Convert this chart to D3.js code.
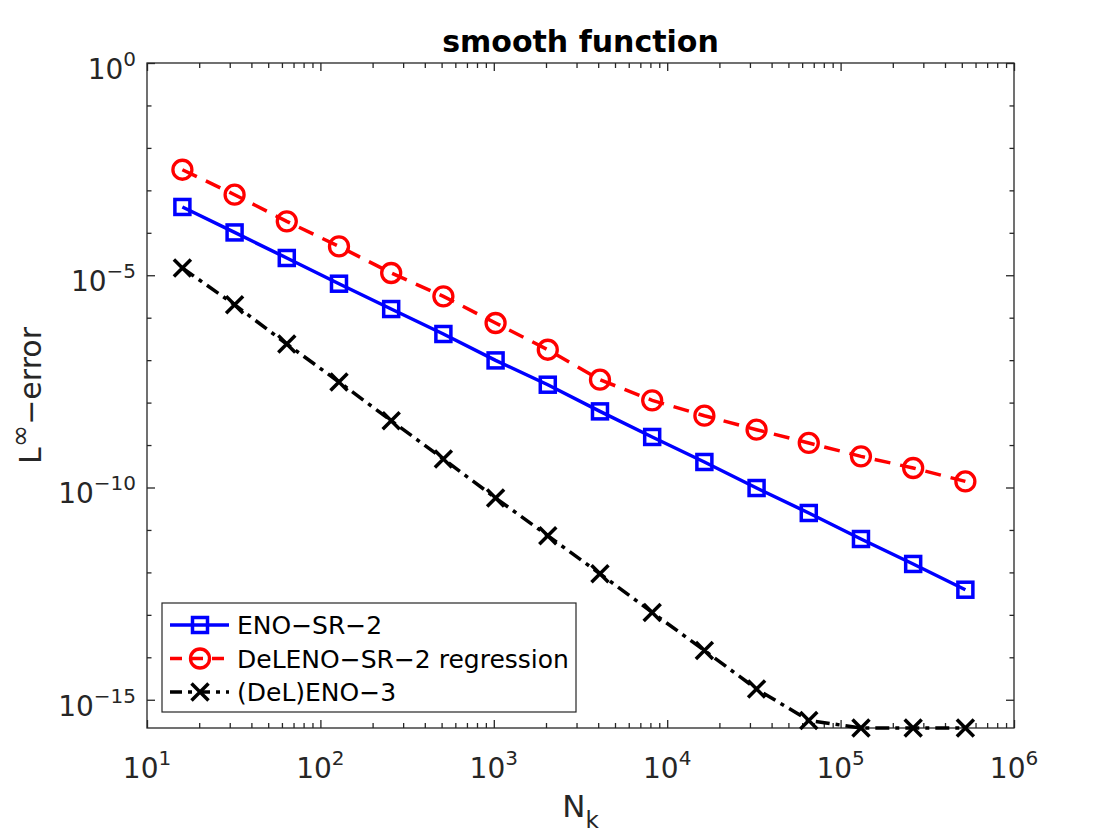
<!DOCTYPE html>
<html>
<head>
<meta charset="utf-8">
<script src="https://cdn.jsdelivr.net/npm/d3@7"></script>
<style>
  body { margin: 0; background: #fff; }
  svg { display: block; font-family: "DejaVu Sans", sans-serif; }
</style>
</head>
<body>
<div id="chart"></div>
<script>
// data
const cells = [16, 32, 64, 128, 256, 512, 1024, 2048, 4096, 8192, 16384, 32768, 65536, 131072, 262144, 524288];
const enoSR2 = [4.06e-4, 1.02e-4, 2.55e-5, 6.32e-6, 1.60e-6, 4.13e-7, 9.86e-8, 2.64e-8, 6.21e-9, 1.55e-9, 3.99e-10, 9.72e-11, 2.51e-11, 6.12e-12, 1.58e-12, 3.91e-13];
const delenoSR2 = [3.06e-3, 7.90e-4, 1.86e-4, 4.78e-5, 1.13e-5, 3.18e-6, 7.50e-7, 1.76e-7, 3.46e-8, 1.13e-8, 4.91e-9, 2.30e-9, 1.12e-9, 5.41e-10, 2.88e-10, 1.39e-10];
const eno3 = [1.48e-5, 2.02e-6, 2.40e-7, 3.06e-8, 3.75e-9, 4.69e-10, 5.66e-11, 7.33e-12, 9.31e-13, 1.14e-13, 1.45e-14, 1.79e-15, 3.26e-16, 2.16e-16, 2.16e-16, 2.16e-16];
const seriesNames = ["ENO\u2212SR\u22122", "DeLENO\u2212SR\u22122 regression", "(DeL)ENO\u22123"];
const xTickExps = [1, 2, 3, 4, 5, 6];
const yTickExps = [0, -5, -10, -15];

const width = 1120;
const height = 840;
const marginLeft = 147;
const marginRight = 106;
const marginTop = 63;
const marginBottom = 112;
const chartWidth = width - marginLeft - marginRight;
const chartHeight = height - marginTop - marginBottom;
const axisColor = "#262626";

const series = [
  { name: seriesNames[0], values: enoSR2, color: "#0000ff", dash: null, legendDash: null, marker: "square" },
  { name: seriesNames[1], values: delenoSR2, color: "#ff0000", dash: "16,10", legendDash: "12,9", marker: "circle" },
  { name: seriesNames[2], values: eno3, color: "#000000", dash: "14,6,4,6", legendDash: "12,6,4,6", marker: "cross" }
];

// scales
const xScale = d3.scaleLog().domain([10, 1e6]).range([0, chartWidth]);
const yMin = d3.min(series.flatMap((s) => s.values));
const yScale = d3.scaleLog().domain([yMin, 1]).range([chartHeight, 0]);

const xMajor = xTickExps.map((e) => Math.pow(10, e));
const xMinor = xScale.ticks().filter((t) => !xMajor.some((m) => Math.abs(m - t) / m < 1e-9));
const yMajor = yTickExps.map((e) => Math.pow(10, e));
const yMinor = d3.range(-1, -16, -1).filter((e) => !yTickExps.includes(e)).map((e) => Math.pow(10, e));

const svg = d3.select("#chart").append("svg")
  .attr("width", width)
  .attr("height", height);

const g = svg.append("g")
  .attr("transform", `translate(${marginLeft}, ${marginTop})`);

// ticks (inward, on all four sides)
function tickAxis(axis, values, size, transform) {
  const a = g.append("g")
    .attr("transform", transform)
    .call(axis.tickValues(values).tickSize(-size).tickFormat(""));
  a.select(".domain").remove();
  a.selectAll("line").attr("stroke", axisColor).attr("stroke-width", 1.3);
}
tickAxis(d3.axisBottom(xScale), xMajor, 8, `translate(0, ${chartHeight})`);
tickAxis(d3.axisBottom(xScale), xMinor, 5, `translate(0, ${chartHeight})`);
tickAxis(d3.axisTop(xScale), xMajor, 8, "translate(0, 0)");
tickAxis(d3.axisTop(xScale), xMinor, 5, "translate(0, 0)");
tickAxis(d3.axisLeft(yScale), yMajor, 8, "translate(0, 0)");
tickAxis(d3.axisLeft(yScale), yMinor, 4.5, "translate(0, 0)");
tickAxis(d3.axisRight(yScale), yMajor, 8, `translate(${chartWidth}, 0)`);
tickAxis(d3.axisRight(yScale), yMinor, 4.5, `translate(${chartWidth}, 0)`);

// box
g.append("rect")
  .attr("width", chartWidth)
  .attr("height", chartHeight)
  .attr("fill", "none")
  .attr("stroke", axisColor)
  .attr("stroke-width", 1.3);

// tick labels with superscripts
const fmtExp = (e) => (e < 0 ? "\u2212" + (-e) : String(e));

g.append("g").selectAll("text")
  .data(xTickExps)
  .join("text")
  .attr("x", (e) => xScale(Math.pow(10, e)))
  .attr("y", chartHeight + 50)
  .attr("text-anchor", "middle")
  .attr("fill", axisColor)
  .attr("font-size", 28)
  .each(function (e) {
    const t = d3.select(this);
    t.append("tspan").text("10");
    t.append("tspan").attr("dy", -13).attr("font-size", 20).text(fmtExp(e));
  });

g.append("g").selectAll("text")
  .data(yTickExps)
  .join("text")
  .attr("x", -11)
  .attr("y", (e) => yScale(Math.pow(10, e)) + 16)
  .attr("text-anchor", "end")
  .attr("fill", axisColor)
  .attr("font-size", 28)
  .each(function (e) {
    const t = d3.select(this);
    t.append("tspan").text("10");
    t.append("tspan").attr("dy", -13).attr("font-size", 20).text(fmtExp(e));
  });

// title and axis labels
svg.append("text")
  .attr("x", marginLeft + chartWidth / 2)
  .attr("y", 52)
  .attr("text-anchor", "middle")
  .attr("font-size", 30)
  .attr("font-weight", "bold")
  .attr("fill", "#000")
  .text("smooth function");

const xLabel = svg.append("text")
  .attr("x", marginLeft + chartWidth / 2)
  .attr("y", 817)
  .attr("text-anchor", "middle")
  .attr("font-size", 31)
  .attr("fill", axisColor);
xLabel.append("tspan").text("N");
xLabel.append("tspan").attr("dy", 11).attr("font-size", 23).text("k");

const yLabel = svg.append("text")
  .attr("transform", `translate(41, ${marginTop + chartHeight / 2}) rotate(-90)`)
  .attr("text-anchor", "middle")
  .attr("font-size", 30)
  .attr("fill", axisColor);
yLabel.append("tspan").text("L");
yLabel.append("tspan").attr("dy", -12).attr("font-size", 27).text("\u221e");
yLabel.append("tspan").attr("dy", 12).text("\u2212error");

// markers
function drawMarker(sel, type, color) {
  if (type === "square") {
    sel.append("rect")
      .attr("x", -7.5).attr("y", -7.5).attr("width", 15).attr("height", 15)
      .attr("fill", "none").attr("stroke", color).attr("stroke-width", 3.5);
  } else if (type === "circle") {
    sel.append("circle")
      .attr("r", 9.5)
      .attr("fill", "none").attr("stroke", color).attr("stroke-width", 3.3);
  } else {
    sel.append("path")
      .attr("d", "M-8.5,-8.5L8.5,8.5M-8.5,8.5L8.5,-8.5")
      .attr("fill", "none").attr("stroke", color).attr("stroke-width", 3.5);
  }
}

const line = d3.line()
  .x((d) => xScale(d[0]))
  .y((d) => yScale(d[1]));

series.forEach((s) => {
  const pts = cells.map((n, i) => [n, s.values[i]]);
  g.append("path")
    .datum(pts)
    .attr("d", line)
    .attr("fill", "none")
    .attr("stroke", s.color)
    .attr("stroke-width", 3.5)
    .attr("stroke-dasharray", s.dash);

  g.append("g").selectAll("g")
    .data(pts)
    .join("g")
    .attr("transform", (d) => `translate(${xScale(d[0])}, ${yScale(d[1])})`)
    .each(function () { drawMarker(d3.select(this), s.marker, s.color); });
});

// legend
const legend = svg.append("g").attr("transform", "translate(162, 603)");
legend.append("rect")
  .attr("width", 414)
  .attr("height", 109)
  .attr("fill", "#fff")
  .attr("stroke", axisColor)
  .attr("stroke-width", 1.2);

series.forEach((s, i) => {
  const row = legend.append("g").attr("transform", `translate(0, ${22 + i * 33.5})`);
  row.append("line")
    .attr("x1", 8).attr("x2", 67)
    .attr("stroke", s.color)
    .attr("stroke-width", 3.5)
    .attr("stroke-dasharray", s.legendDash);
  drawMarker(row.append("g").attr("transform", "translate(38, 0)"), s.marker, s.color);
  row.append("text")
    .attr("x", 75)
    .attr("y", 9)
    .attr("font-size", 25)
    .attr("fill", "#000")
    .text(s.name);
});
</script>
</body>
</html>
